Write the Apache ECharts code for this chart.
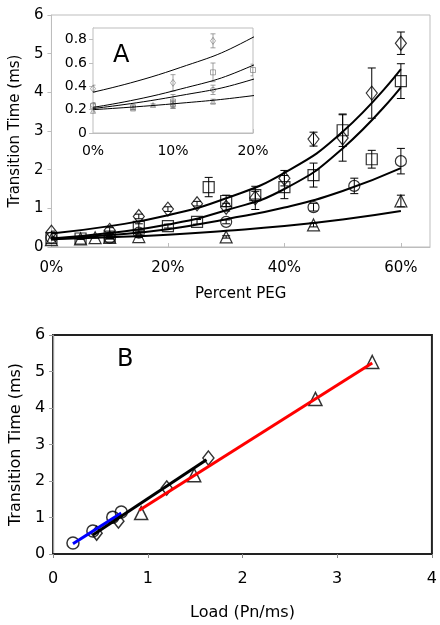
<!DOCTYPE html>
<html><head><meta charset="utf-8">
<script src="https://cdn.jsdelivr.net/npm/echarts@6/dist/echarts.min.js"></script>
<style>html,body{margin:0;padding:0;background:#fff}#c{width:440px;height:625px}</style>
</head><body><div id="c"></div>
<script>
// ---- Panel A data: [percent PEG, transition time (ms), error] ----
const diamondA = [[0,0.38,0.03],[10,0.43,0.07],[15,0.79,0.06],[20,0.98,0.06],[25,1.12,0.06],[30,1.03,0.1],[35,1.27,0.3],[40,1.78,0.2],[45,2.79,0.18],[50,2.82,0.6],[55,3.98,0.65],[60,5.27,0.29]];
const squareA = [[0,0.23,0.02],[5,0.22,0.02],[10,0.27,0.06],[15,0.52,0.08],[20,0.54,0.05],[25,0.65,0.06],[27,1.55,0.25],[30,1.19,0.15],[35,1.34,0.1],[40,1.55,0.3],[45,1.86,0.31],[50,3.02,0.42],[55,2.27,0.23],[60,4.29,0.45]];
const circleA = [[0,0.24,0.02],[10,0.24,0.03],[15,0.37,0.04],[30,0.65,0.05],[45,1.03,0.1],[52,1.58,0.2],[60,2.22,0.33]];
const triangleA = [[0,0.19,0.01],[5,0.21,0.01],[7.5,0.24,0.01],[10,0.25,0.03],[15,0.27,0.02],[30,0.26,0.03],[45,0.57,0.05],[60,1.19,0.15]];
// fitted curves
const curveDiamond = [[0,0.35],[10,0.54],[20,0.82],[30,1.26],[40,1.92],[50,2.98],[60,4.6]];
const curveSquare = [[0,0.22],[10,0.36],[20,0.58],[30,0.95],[40,1.5],[50,2.55],[60,4.13]];
const curveCircle = [[0,0.21],[10,0.31],[20,0.46],[30,0.72],[40,1.02],[50,1.45],[60,2.04]];
const curveTriangle = [[0,0.2],[10,0.25],[20,0.32],[30,0.42],[40,0.54],[50,0.71],[60,0.93]];
const ticksA_x = [0,20,40,60];
const ticksInset_x = [0,10,20];

// ---- Panel B data: [load (Pn/ms), transition time (ms)] ----
const circleB = [[0.21,0.30],[0.42,0.63],[0.63,1.01],[0.72,1.15]];
const diamondB = [[0.46,0.57],[0.69,0.90],[1.20,1.81],[1.64,2.63]];
const triangleB = [[0.93,1.12],[1.49,2.16],[2.77,4.25],[3.37,5.26]];
const fitBlue = [[0.21,0.28],[0.72,1.12]];
const fitBlack = [[0.42,0.52],[1.62,2.58]];
const fitRed = [[0.91,1.20],[3.37,5.23]];

const FONT = 'DejaVu Sans';
const chart = echarts.init(document.getElementById('c'), null, {renderer:'canvas'});

function errSeries(data, xi, yi, cap, color, lw) {
  return {
    type:'custom', xAxisIndex:xi, yAxisIndex:yi, clip:true, z:3, silent:true,
    data: data,
    renderItem: function(params, api){
      const x = api.value(0), y = api.value(1), e = api.value(2);
      const t = api.coord([x, y+e]), b = api.coord([x, y-e]);
      const st = {stroke:color, lineWidth:lw};
      return {type:'group', children:[
        {type:'line', shape:{x1:t[0],y1:t[1],x2:b[0],y2:b[1]}, style:st},
        {type:'line', shape:{x1:t[0]-cap,y1:t[1],x2:t[0]+cap,y2:t[1]}, style:st},
        {type:'line', shape:{x1:b[0]-cap,y1:b[1],x2:b[0]+cap,y2:b[1]}, style:st}
      ]};
    }
  };
}
function scat(data, xi, yi, symbol, size, color, lw) {
  return {type:'scatter', xAxisIndex:xi, yAxisIndex:yi, symbol:symbol, symbolSize:size, clip:true, z:4,
    data: data.map(d=>[d[0],d[1]]),
    itemStyle:{color:'rgba(0,0,0,0)', borderColor:color, borderWidth:lw}};
}
function curve(data, xi, yi, color, lw, smooth) {
  return {type:'line', xAxisIndex:xi, yAxisIndex:yi, data:data, smooth:smooth, showSymbol:false, symbol:'none', clip:true, z:5,
    lineStyle:{color:color, width:lw}};
}

const series = [];
// main A
[[diamondA,'diamond',[11,14]],[squareA,'rect',11],[circleA,'circle',11],[triangleA,'triangle',12]].forEach(s=>{
  series.push(errSeries(s[0],0,0,4,'#000',1));
  series.push(scat(s[0],0,0,s[1],s[2],'#000',1.2));
});
[curveDiamond,curveSquare,curveCircle,curveTriangle].forEach(c=>series.push(curve(c,0,0,'#000',2,0.5)));
// inset
[[diamondA,'diamond',[5,7]],[squareA,'rect',5],[circleA,'circle',5],[triangleA,'triangle',5]].forEach(s=>{
  series.push(errSeries(s[0],1,1,2.5,'#888',0.8));
  series.push(scat(s[0],1,1,s[1],s[2],'#777',0.8));
});
[curveDiamond,curveSquare,curveCircle,curveTriangle].forEach(c=>series.push(curve(c,1,1,'#000',1,0.5)));
// B
series.push(scat(circleB,2,2,'circle',12,'#000',1.5));
series.push(scat(diamondB,2,2,'diamond',[11,14],'#000',1.5));
series.push(scat(triangleB,2,2,'triangle',13,'#000',1.5));
series.push(curve(fitBlue,2,2,'#0000ff',3,false));
series.push(curve(fitBlack,2,2,'#000',3,false));
series.push(curve(fitRed,2,2,'#ff0000',3,false));

const lbl = {fontFamily:FONT, color:'#000'};
chart.setOption({
  animation:false,
  backgroundColor:'#fff',
  grid:[
    {left:48, top:15, width:382, height:232, show:true, borderColor:'#bdbdbd', borderWidth:1, backgroundColor:'#fff'},
    {left:93, top:28, width:160, height:105, show:true, borderColor:'#bdbdbd', borderWidth:1, backgroundColor:'#fff', z:3},
    {left:53, top:335, width:380, height:219, show:true, borderColor:'#222', borderWidth:2, backgroundColor:'#fff'}
  ],
  xAxis:[
    {type:'value', gridIndex:0, min:0, max:65, interval:20,
     name:'Percent PEG', nameLocation:'middle', nameGap:40, nameTextStyle:{...lbl, fontSize:15},
     axisLine:{lineStyle:{color:'#bdbdbd'}}, axisTick:{inside:true, length:4, lineStyle:{color:'#bdbdbd'}},
     splitLine:{show:false}, axisLabel:{...lbl, fontSize:15, margin:14, showMaxLabel:false,
       formatter:v=>ticksA_x.includes(v)?v+'%':''}},
    {type:'value', gridIndex:1, min:0, max:20, interval:10,
     axisLine:{lineStyle:{color:'#bdbdbd'}}, axisTick:{inside:true, length:4, lineStyle:{color:'#bdbdbd'}},
     splitLine:{show:false}, axisLabel:{...lbl, fontSize:14, margin:11,
       formatter:v=>ticksInset_x.includes(v)?v+'%':''}},
    {type:'value', gridIndex:2, min:0, max:4, interval:1,
     name:'Load (Pn/ms)', nameLocation:'middle', nameGap:51, nameTextStyle:{...lbl, fontSize:16},
     axisLine:{lineStyle:{color:'#222', width:2}}, axisTick:{length:4, lineStyle:{color:'#888'}},
     splitLine:{show:false}, axisLabel:{...lbl, fontSize:16, margin:17}}
  ],
  yAxis:[
    {type:'value', gridIndex:0, min:0, max:6, interval:1,
     name:'Transition Time (ms)', nameLocation:'middle', nameGap:28, nameTextStyle:{...lbl, fontSize:15},
     axisLine:{show:true, lineStyle:{color:'#bdbdbd'}}, axisTick:{show:true, length:4, lineStyle:{color:'#bdbdbd'}},
     splitLine:{show:false}, axisLabel:{...lbl, fontSize:15, margin:8}},
    {type:'value', gridIndex:1, min:0, max:0.9, interval:0.2,
     axisLine:{show:true, lineStyle:{color:'#bdbdbd'}}, axisTick:{show:true, length:4, lineStyle:{color:'#bdbdbd'}},
     splitLine:{show:false}, axisLabel:{...lbl, fontSize:14, margin:6, showMaxLabel:false,
       formatter:v=>(Math.abs(v*5-Math.round(v*5))<1e-6)?(v===0?'0':v.toFixed(1)):''}},
    {type:'value', gridIndex:2, min:0, max:6, interval:1,
     name:'Transition Time (ms)', nameLocation:'middle', nameGap:28, nameTextStyle:{...lbl, fontSize:16},
     axisLine:{show:true, lineStyle:{color:'#999'}}, axisTick:{show:true, length:4, lineStyle:{color:'#999'}},
     splitLine:{show:false}, axisLabel:{...lbl, fontSize:16, margin:8}}
  ],
  graphic:[
    {type:'text', left:113, top:44, z:100, style:{text:'A', fontFamily:FONT, fontSize:24, fill:'#000'}},
    {type:'text', left:117, top:348, z:100, style:{text:'B', fontFamily:FONT, fontSize:24, fill:'#000'}}
  ],
  series: series
});
</script></body></html>
